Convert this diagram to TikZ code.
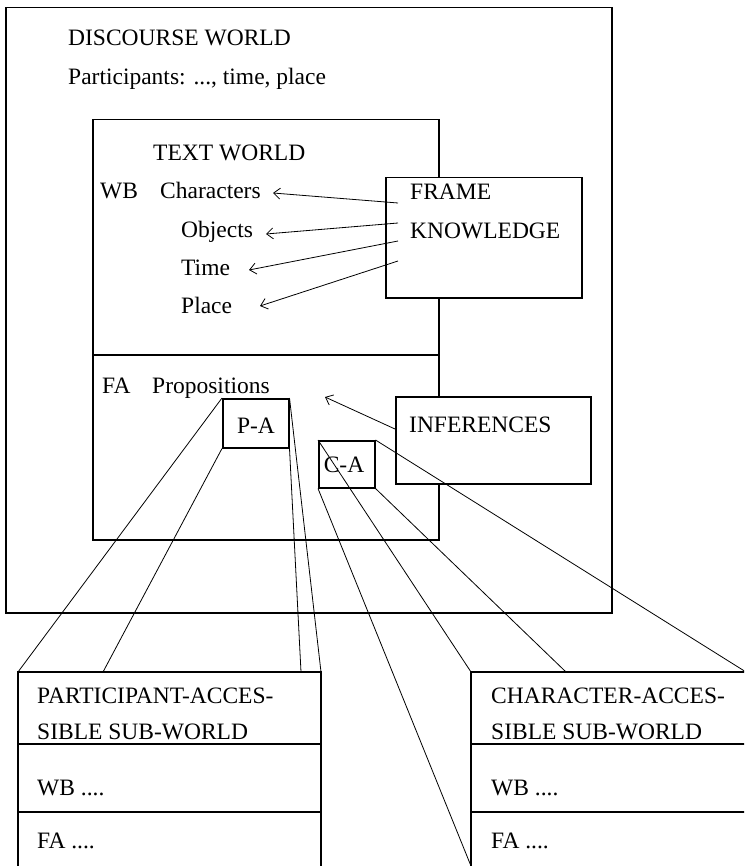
\documentclass[tikz,border=0pt]{standalone}
\usepackage{fontspec}
\setmainfont{Liberation Serif}
\usetikzlibrary{arrows.meta}
\begin{document}
\begin{tikzpicture}[x=1pt,y=-1pt,
  box/.style={draw, line width=1.5pt, inner sep=0pt, anchor=north west},
  wbox/.style={box, fill=white},
  lbl/.style={anchor=base west, inner sep=0pt, font=\fontsize{23.5}{23.5}\selectfont},
  clbl/.style={anchor=base, inner sep=0pt, font=\fontsize{23.5}{23.5}\selectfont},
  link/.style={line width=0.8pt},
  feed/.style={line width=0.8pt, -{Straight Barb[length=6.5pt,width=11pt,line width=0.8pt]}}
]
\clip (0,0) rectangle (744,866);

% discourse world and text world
\node[box, minimum width=606pt, minimum height=605pt] (dworld) at (5,7) {};
\node[box, minimum width=346pt, minimum height=420pt] (tworld) at (92,119) {};
\coordinate (divl) at (92,355);
\coordinate (divr) at (438,355);
\draw[line width=1.5pt] (divl) -- (divr);

% knowledge sources
\node[wbox, minimum width=196pt, minimum height=120pt] (frame) at (385,177) {};
\node[wbox, minimum width=195pt, minimum height=87pt] (infer) at (395,396) {};

% labels
\node[lbl] (dwt) at (68,46) {DISCOURSE WORLD};
\node[lbl] (parts) at (68,85) {Participants: ..., time, place};
\node[lbl] (twt) at (153,161) {TEXT WORLD};
\node[lbl] (wb) at (100,199) {WB};
\node[lbl] (chars) at (160,199) {Characters};
\node[lbl] (objs) at (181,238) {Objects};
\node[lbl] (time) at (181,276) {Time};
\node[lbl] (place) at (181,313) {Place};
\node[lbl] (fr1) at (410,200) {FRAME};
\node[lbl] (fr2) at (410,239) {KNOWLEDGE};
\node[lbl] (fa) at (102,393) {FA};
\node[lbl] (props) at (152,393) {Propositions};
\node[lbl] (inft) at (409,432) {INFERENCES};

% frame knowledge feeding the world-builders
\coordinate (f1) at (398,203);
\coordinate (f2) at (398,223);
\coordinate (f3) at (398,241);
\coordinate (f4) at (398,261);
\coordinate (t1) at (273,193);
\coordinate (t2) at (266,234);
\coordinate (t3) at (249,270);
\coordinate (t4) at (260,306);
\draw[feed] (f1) -- (t1);
\draw[feed] (f2) -- (t2);
\draw[feed] (f3) -- (t3);
\draw[feed] (f4) -- (t4);
\coordinate (i1) at (395,429);
\coordinate (i2) at (325,397);
\draw[feed] (i1) -- (i2);

% accessibility markers
\node[box, minimum width=66pt, minimum height=49pt] (pa) at (222,398) {};
\node[clbl] (pat) at (256,433) {P-A};
\node[box, minimum width=56pt, minimum height=47pt] (ca) at (318,440) {};
\node[clbl] (cat) at (344,472) {C-A};

% sub-worlds
\coordinate (pw-nw) at (18,672);
\coordinate (pw-a) at (103,672);
\coordinate (pw-b) at (301,672);
\coordinate (pw-ne) at (321,672);
\draw[line width=1.5pt] (18,880) -- (pw-nw) -- (pw-ne) -- (321,880);
\draw[line width=1.5pt] (18,744) -- (321,744);
\draw[line width=1.5pt] (18,812) -- (321,812);
\node[lbl] (pw1) at (37,703) {PARTICIPANT-ACCES-};
\node[lbl] (pw2) at (37,739) {SIBLE SUB-WORLD};
\node[lbl] (pw3) at (37,795) {WB ....};
\node[lbl] (pw4) at (37,848) {FA ....};

\coordinate (cw-nw) at (471,672);
\coordinate (cw-sw) at (471,866);
\coordinate (cw-a) at (566,672);
\coordinate (cw-ne) at (746,672);
\draw[line width=1.5pt] (471,880) -- (cw-nw) -- (760,672);
\draw[line width=1.5pt] (471,744) -- (760,744);
\draw[line width=1.5pt] (471,812) -- (760,812);
\node[lbl] (cw1) at (491,703) {CHARACTER-ACCES-};
\node[lbl] (cw2) at (491,739) {SIBLE SUB-WORLD};
\node[lbl] (cw3) at (491,795) {WB ....};
\node[lbl] (cw4) at (491,848) {FA ....};

% projection lines
\draw[link] (pa.north west) -- (pw-nw);
\draw[link] (pa.south west) -- (pw-a);
\draw[link] (pa.south east) -- (pw-b);
\draw[link] (pa.north east) -- (pw-ne);
\draw[link] (ca.north west) -- (cw-nw);
\draw[link] (ca.south west) -- (cw-sw);
\draw[link] (ca.south east) -- (cw-a);
\draw[link] (ca.north east) -- (cw-ne);
\end{tikzpicture}
\end{document}
